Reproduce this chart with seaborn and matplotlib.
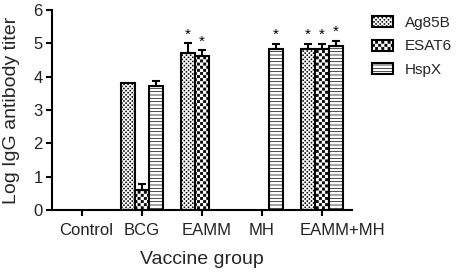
import matplotlib
matplotlib.use("Agg")
import matplotlib.pyplot as plt
import matplotlib.hatch as mhatch
from matplotlib.path import Path
from matplotlib.patches import Patch
from matplotlib.transforms import ScaledTranslation
import seaborn as sns
import pandas as pd
import numpy as np

groups = ["Control", "BCG", "EAMM", "MH", "EAMM+MH"]
antigens = ["Ag85B", "ESAT6", "HspX"]
ag85b = [0.0, 3.82, 4.72, 0.0, 4.82]
esat6 = [0.0, 0.60, 4.62, 0.0, 4.82]
hspx = [0.0, 3.72, 0.0, 4.82, 4.92]
ag85b_err = [0.0, 0.0, 0.28, 0.0, 0.17]
esat6_err = [0.0, 0.17, 0.17, 0.0, 0.17]
hspx_err = [0.0, 0.16, 0.0, 0.17, 0.16]
stars = {"Ag85B": [False, False, True, False, True],
         "ESAT6": [False, False, True, False, True],
         "HspX": [False, False, False, True, True]}

values = {"Ag85B": ag85b, "ESAT6": esat6, "HspX": hspx}
errs = {"Ag85B": ag85b_err, "ESAT6": esat6_err, "HspX": hspx_err}

rows = []
for a in antigens:
    for g, v in zip(groups, values[a]):
        rows.append({"group": g, "antigen": a, "titer": v})
df = pd.DataFrame(rows)


# checkerboard hatch pattern, bound to the '*' hatch character
class Checker(mhatch.HatchPatternBase):
    def __init__(self, hatch, density):
        self.n = hatch.count('*') * 8
        self.count = (self.n * self.n + 1) // 2
        self.num_vertices = 5 * self.count if self.n > 0 else 0

    def set_vertices_and_codes(self, vertices, codes):
        n = self.n
        c = 1.0 / n
        m = (0.3 if n > 40 else 0.15) * c
        sq = np.array([[0, 0], [1, 0], [1, 1], [0, 1], [0, 0]], float) * (c - 2 * m) + m
        parts = []
        for i in range(n):
            for j in range(n):
                if (i + j) % 2 == 0:
                    parts.append(sq + [i * c, j * c])
        vertices[:] = np.concatenate(parts)
        codes[:] = np.tile([Path.MOVETO, Path.LINETO, Path.LINETO, Path.LINETO,
                            Path.CLOSEPOLY], self.count)


try:
    mhatch._hatch_types = [Checker if t is mhatch.Stars else t
                           for t in mhatch._hatch_types]
    hatches = {"Ag85B": "******", "ESAT6": "****", "HspX": "-----"}
except Exception:
    hatches = {"Ag85B": "xxxxxx", "ESAT6": "xx", "HspX": "-----"}

sns.set_style("ticks")
plt.rcParams["font.family"] = ["Liberation Sans", "DejaVu Sans"]
plt.rcParams["hatch.linewidth"] = 0.5

fig = plt.figure(figsize=(4.59, 2.73), dpi=100)
ax = fig.add_axes([0.113, 0.231, 0.654, 0.732])

sns.barplot(data=df, x="group", y="titer", hue="antigen", order=groups,
            hue_order=antigens, errorbar=None, width=0.7,
            palette=["white"] * 3, edgecolor="black", linewidth=1.5, ax=ax,
            legend=False)

for cont, a in zip(ax.containers, antigens):
    for i, bar in enumerate(cont):
        bar.set_hatch(hatches[a])
        bar.set_facecolor("white")
        bar.set_edgecolor("black")
        h = bar.get_height()
        if h <= 0:
            bar.set_visible(False)
            continue
        xc = bar.get_x() + bar.get_width() / 2
        e = errs[a][i]
        if e > 0:
            ax.errorbar([xc], [h], yerr=[[0], [e]], fmt="none", ecolor="black",
                        elinewidth=1.5, capsize=3, capthick=1.5, zorder=3)
        if stars[a][i]:
            ax.text(xc, h + e + 0.06, "*", ha="center", va="bottom",
                    fontsize=11, color="black")

ax.set_ylim(0, 6)
ax.set_xlim(-0.5, 4.5)
ax.set_yticks([0, 1, 2, 3, 4, 5, 6])
ax.set_ylabel("Log IgG antibody titer", fontsize=14)
ax.yaxis.set_label_coords(-0.105, 0.5)
ax.set_xlabel("Vaccine group", fontsize=14, labelpad=9)
ax.tick_params(axis="both", labelsize=12, width=1.5, length=4.5, color="black",
               labelcolor="#222222")
ax.tick_params(axis="x", pad=5)
ax.tick_params(axis="y", pad=2)
for s in ["left", "bottom"]:
    ax.spines[s].set_linewidth(1.5)
    ax.spines[s].set_color("black")
sns.despine(ax=ax)

handles = [Patch(facecolor="white", edgecolor="black", hatch=hatches[a],
                 linewidth=1.5, label=a) for a in antigens]
fig.legend(handles=handles, loc="upper left", bbox_to_anchor=(372 / 459, 1 - 16 / 273),
           frameon=False, fontsize=11, handlelength=1.37, handleheight=0.75,
           labelspacing=0.62, handletextpad=0.78, borderpad=0, borderaxespad=0)

# slight horizontal nudges of category labels as in the original layout
fig.canvas.draw()
label_nudge = {"Control": 4, "EAMM": 5, "EAMM+MH": 20}
for lab in ax.get_xticklabels():
    dx = label_nudge.get(lab.get_text(), 0)
    if dx:
        lab.set_transform(lab.get_transform()
                          + ScaledTranslation(dx / 100, 0, fig.dpi_scale_trans))

fig.savefig("out.png", dpi=100)
